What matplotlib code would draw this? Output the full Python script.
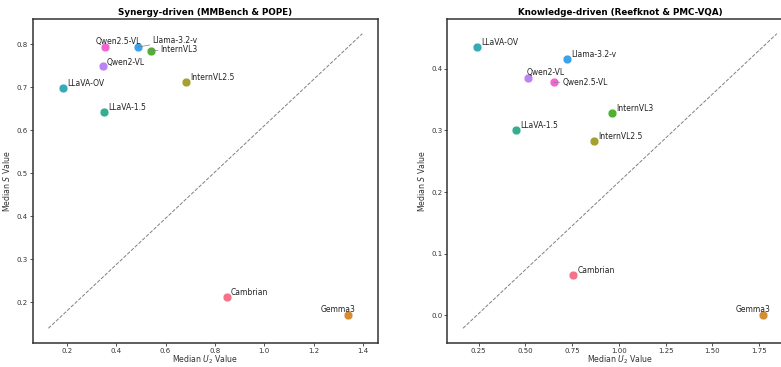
import numpy as np
import matplotlib.pyplot as plt
import seaborn as sns

models = ["Cambrian", "Gemma3", "InternVL2.5", "InternVL3", "LLaVA-1.5",
          "LLaVA-OV", "Llama-3.2-v", "Qwen2-VL", "Qwen2.5-VL"]

# Synergy-driven (MMBench & POPE)
syn_u2 = [0.848, 1.340, 0.684, 0.540, 0.350, 0.183, 0.488, 0.346, 0.354]
syn_s = [0.212, 0.171, 0.713, 0.785, 0.642, 0.697, 0.793, 0.748, 0.793]

# Knowledge-driven (Reefknot & PMC-VQA)
know_u2 = [0.755, 1.768, 0.867, 0.964, 0.450, 0.243, 0.722, 0.516, 0.653]
know_s = [0.066, 0.001, 0.283, 0.328, 0.301, 0.435, 0.416, 0.385, 0.378]

colors = sns.color_palette("husl", len(models))

# label offsets in points (dx, dy, connector)
syn_offsets = {
    "Qwen2.5-VL": (-6.5, 4.3, False),
    "Llama-3.2-v": (10.5, 4.8, True),
    "InternVL3": (7.2, 0.5, True),
    "Gemma3": (-19.5, 3.9, False),
}
know_offsets = {
    "Qwen2-VL": (-1.2, 3.6, False),
    "Qwen2.5-VL": (6.3, 0.0, True),
    "Gemma3": (-19.5, 3.9, False),
}
default_off = (3.0, 3.2, False)


def panel(ax, x, y, title, offsets):
    for i, m in enumerate(models):
        ax.scatter(x[i], y[i], s=40, color=colors[i], edgecolor="white",
                   linewidth=0.3, zorder=3)
    # reference line across the autoscaled range
    x0, x1 = ax.get_xlim()
    y0, y1 = ax.get_ylim()
    ax.plot([x0, x1], [y0, y1], ls="--", color="grey", lw=0.7, zorder=1)
    for i, m in enumerate(models):
        dx, dy, conn = offsets.get(m, default_off)
        kw = {}
        if conn:
            kw["arrowprops"] = dict(arrowstyle="-", color="grey", lw=0.5,
                                    shrinkA=0, shrinkB=0)
        ax.annotate(m, (x[i], y[i]), xytext=(dx, dy), textcoords="offset points",
                    ha="left", va="center", fontsize=5.5, color="#222222",
                    zorder=4, **kw)
    ax.set_title(title, fontsize=6.3, fontweight="bold", pad=3)
    ax.set_xlabel("Median $U_2$ Value", fontsize=5.6, color="#333333", labelpad=0)
    ax.set_ylabel("Median $S$ Value", fontsize=5.6, color="#333333", labelpad=3)
    ax.tick_params(labelsize=5.0, length=2, width=0.6, pad=1.5, colors="#333333")
    for sp in ax.spines.values():
        sp.set_color("#333333")
        sp.set_linewidth(1.1)


fig = plt.figure(figsize=(7.81, 3.67), dpi=100)
ax1 = fig.add_axes([0.0419, 0.0654, 0.4421, 0.8829])
ax2 = fig.add_axes([0.5727, 0.0654, 0.4421, 0.8829])

panel(ax1, syn_u2, syn_s, "Synergy-driven (MMBench & POPE)", syn_offsets)
panel(ax2, know_u2, know_s, "Knowledge-driven (Reefknot & PMC-VQA)", know_offsets)
ax2.set_xticks([0.25, 0.5, 0.75, 1.0, 1.25, 1.5, 1.75])

fig.savefig("out.png", dpi=100)
